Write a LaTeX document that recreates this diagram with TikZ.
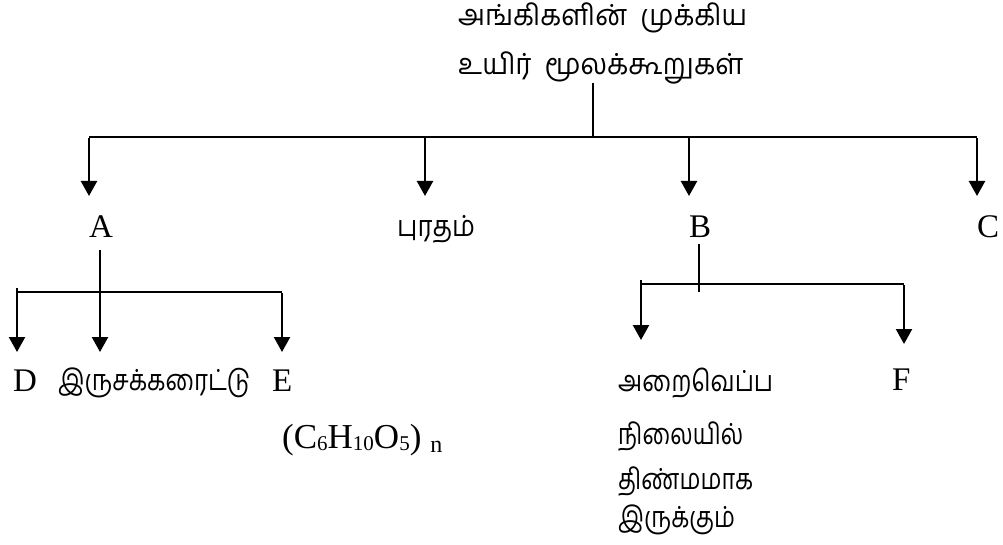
\documentclass[tikz,border=0pt]{standalone}
\usepackage{fontspec}
\setmainfont{Liberation Serif}
\newfontfamily\tamil[Script=Tamil]{Hind Madurai}
\usetikzlibrary{arrows.meta}
\newcommand\subsc[1]{\raisebox{-2pt}{\fontsize{21}{24}\selectfont #1}}
\newcommand\tw[2]{\resizebox{#1pt}{\height}{#2}}
\tikzset{
  lat/.style={inner sep=0pt, font=\fontsize{33}{38}\selectfont},
  tam/.style={inner sep=0pt, anchor=base west, font=\tamil\fontsize{29}{34}\selectfont},
  link/.style={line width=2.3pt},
  arr/.style={line width=2.3pt, -{Triangle[width=16pt,length=15pt]}},
}
\begin{document}
\begin{tikzpicture}[x=1pt,y=-1pt]
\useasboundingbox (0,0) rectangle (1003,545);
% texts
\node[tam] (t1) at (458,26) {\tw{289}{அங்கிகளின்\hspace{14pt}முக்கிய}};
\node[tam] (t2) at (458,75) {\tw{285}{உயிர்\hspace{14pt}மூலக்கூறுகள்}};
\node[lat,anchor=base] (A) at (101,238) {A};
\node[tam] (P) at (397,237) {\tw{78}{புரதம்}};
\node[lat,anchor=base] (B) at (700,237) {B};
\node[lat,anchor=base] (C) at (988,237) {C};
\node[lat,anchor=base west] (D) at (13,391) {D};
\node[tam] (ir) at (58,390) {\tw{192}{இருசக்கரைட்டு}};
\node[lat,anchor=base west] (E) at (272,391) {E};
\node[lat,anchor=base west,font=\fontsize{35}{40}\selectfont] (form) at (282,448) {(C\subsc{6}H\subsc{10}O\subsc{5})\hspace{9pt}\raisebox{-4pt}{\fontsize{24}{26}\selectfont n}};
\node[tam] (ar) at (618,391) {\tw{155}{அறைவெப்ப}};
\node[lat,anchor=base west] (F) at (892,390) {F};
\node[tam] (n1) at (618,444) {\tw{125}{நிலையில்}};
\node[tam] (n2) at (618,489) {\tw{135}{திண்மமாக}};
\node[tam] (n3) at (618,527) {\tw{117}{இருக்கும்}};
% top level
\coordinate (r0) at (593,83);
\coordinate (r1) at (593,137);
\coordinate (b1) at (89,137);
\coordinate (b2) at (425,137);
\coordinate (b3) at (689,137);
\coordinate (b4) at (977,137);
\coordinate (a1) at (89,196);
\coordinate (a2) at (425,196);
\coordinate (a3) at (689,196);
\coordinate (a4) at (977,196);
\draw[link] (r0) -- (r1);
\draw[link] (b1) -- (b4);
\draw[arr] ([yshift=-1.15pt]b1) -- (a1);
\draw[arr] (b2) -- (a2);
\draw[arr] (b3) -- (a3);
\draw[arr] ([yshift=-1.15pt]b4) -- (a4);
% A branch
\coordinate (A0) at (100,250);
\coordinate (A1) at (100,293);
\coordinate (Al) at (17,292);
\coordinate (Ar) at (282,292);
\coordinate (d1) at (17,352);
\coordinate (d2) at (100,352);
\coordinate (d3) at (282,352);
\draw[link] (A0) -- (A1);
\draw[link] (Al) -- (Ar);
\draw[arr] ([yshift=4pt]Al) -- (d1);
\draw[arr] (A1) -- (d2);
\draw[arr] ([yshift=-1.15pt]Ar) -- (d3);
% B branch
\coordinate (B0) at (699,244);
\coordinate (B1) at (699,292);
\coordinate (Bl) at (641,284);
\coordinate (Br) at (904,284);
\coordinate (e1) at (641,340);
\coordinate (e2) at (904,344);
\draw[link] (B0) -- (B1);
\draw[link] (Bl) -- (Br);
\draw[arr] ([yshift=4pt]Bl) -- (e1);
\draw[arr] ([yshift=-1.15pt]Br) -- (e2);
\end{tikzpicture}
\end{document}
